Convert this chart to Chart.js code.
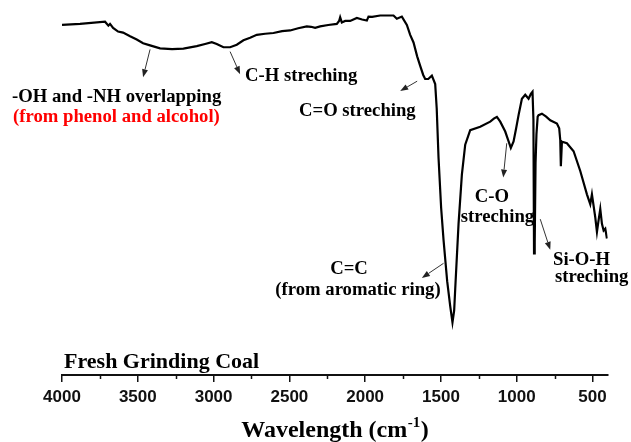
<!DOCTYPE html>
<html>
<head>
<meta charset="utf-8">
<script src="https://cdn.jsdelivr.net/npm/chart.js@4"></script>
<style>
  html, body { margin: 0; padding: 0; background: #fff; }
  #wrap { position: relative; width: 631px; height: 442px; }
</style>
</head>
<body>
<div id="wrap"><canvas id="c" width="631" height="442"></canvas></div>
<script>
// ---- data ----
const wavenumbers = [
  4000, 3881, 3716, 3694, 3683, 3663, 3630, 3597, 3551, 3507, 3465, 3419, 3353, 3274, 3199,
  3111, 3056, 3012, 2979, 2935, 2891, 2847, 2803, 2759, 2715, 2660, 2605, 2548, 2495, 2442,
  2385, 2357, 2330, 2297, 2244, 2187, 2172, 2165, 2154, 2132, 2099, 2055, 2020, 1989, 1978,
  1954, 1901, 1813, 1791, 1758, 1725, 1703, 1681, 1657, 1637, 1617, 1604, 1584, 1560, 1538,
  1528, 1516, 1499, 1483, 1459, 1439, 1424, 1413, 1406, 1384, 1362, 1340, 1307, 1241, 1175,
  1149, 1131, 1109, 1076, 1056, 1039, 1021, 1004, 988, 966, 944, 922, 907, 896, 890,
  886, 883, 880, 876, 870, 862, 856, 834, 806, 779, 735, 720, 713, 709, 702,
  669, 625, 581, 537, 515, 504, 482, 471, 462, 449, 438, 427, 416, 405
];
const transmittance = [
  95.9, 96.2, 96.8, 95.7, 96.2, 95.1, 94.1, 93.8, 92.8, 91.9, 90.9, 90.3, 89.5, 89.3, 89.4,
  90.1, 90.7, 91.2, 90.7, 89.8, 89.8, 90.5, 91.7, 92.4, 93.2, 93.5, 93.7, 94.2, 94.4, 95.0,
  95.5, 95.4, 95.1, 95.5, 95.9, 96.2, 97.0, 98.0, 96.6, 97.0, 97.0, 97.8, 97.4, 97.1, 98.2,
  98.1, 98.5, 98.5, 97.6, 98.2, 95.9, 93.2, 91.1, 87.3, 84.7, 82.2, 81.1, 81.1, 82.0, 79.7,
  73.0, 59.5, 45.9, 37.0, 25.7, 18.9, 14.4, 17.6, 23.5, 41.4, 54.9, 63.1, 67.1, 68.0, 69.4,
  70.3, 70.7, 69.4, 66.7, 64.3, 62.2, 64.0, 67.6, 71.2, 75.7, 76.8, 75.7, 77.0, 77.6, 70.0,
  33.3, 50.0, 36.0, 58.0, 66.0, 70.8, 71.2, 71.6, 70.8, 69.8, 68.9, 67.6, 64.4, 57.2, 63.9,
  63.5, 61.3, 55.9, 49.5, 46.8, 49.5, 43.2, 39.2, 41.9, 45.5, 41.4, 39.6, 40.1, 37.4
];
const tickValues = [4000, 3500, 3000, 2500, 2000, 1500, 1000, 500];
const minorTickValues = [3750, 3250, 2750, 2250, 1750, 1250, 750];
const xRange = [400, 4000];
const yRange = [0, 100];

const chartTitle = 'Fresh Grinding Coal';
const axisTitle = 'Wavelength (cm';
const axisTitleSup = '-1';

// annotation arrows in data units: tail on the spectrum, head near the label
const arrowNotes = [
  { from: [3419, 89.2], to: [3465, 81.6] },
  { from: [2891, 88.6], to: [2825, 82.4] },
  { from: [1657, 80.5], to: [1769, 77.8] },
  { from: [1483, 30.6], to: [1626, 26.6] },
  { from: [1066, 63.5], to: [1089, 54.1] },
  { from: [845, 42.7],  to: [779, 34.3] }
];
// annotation texts (canvas pixel layout)
const labelTexts = [
  { text: '-OH and -NH overlapping',   x: 12,  y: 101.5, color: '#000', align: 'left' },
  { text: '(from phenol and alcohol)', x: 13,  y: 121.5, color: '#ff0000', align: 'left' },
  { text: 'C-H streching',             x: 245, y: 80.5,  color: '#000', align: 'left' },
  { text: 'C=O streching',             x: 299, y: 115.5, color: '#000', align: 'left' },
  { text: 'C=C',                       x: 349, y: 274,   color: '#000', align: 'center' },
  { text: '(from aromatic ring)',      x: 358, y: 295,   color: '#000', align: 'center' },
  { text: 'C-O',                       x: 492, y: 201.5, color: '#000', align: 'center' },
  { text: 'streching',                 x: 497.5, y: 221.5, color: '#000', align: 'center' },
  { text: 'Si-O-H',                    x: 553, y: 265,   color: '#000', align: 'left' },
  { text: 'streching',                 x: 555, y: 282,   color: '#000', align: 'left' }
];

const SERIF = '"Liberation Serif", "Times New Roman", serif';
const SANS = '"Liberation Sans", Arial, sans-serif';

const annotationPlugin = {
  id: 'annotationLayer',
  afterDraw(chart) {
    const ctx = chart.ctx;
    const xs = chart.scales.x, ys = chart.scales.y;
    const bottom = chart.chartArea.bottom;
    ctx.save();
    // minor ticks
    ctx.strokeStyle = '#111';
    ctx.lineWidth = 1.5;
    minorTickValues.forEach(v => {
      const px = Math.round(xs.getPixelForValue(v)) + 0.5;
      ctx.beginPath();
      ctx.moveTo(px, bottom);
      ctx.lineTo(px, bottom + 4);
      ctx.stroke();
    });
    // arrows
    ctx.strokeStyle = '#333';
    ctx.fillStyle = '#222';
    ctx.lineWidth = 1;
    arrowNotes.forEach(a => {
      const x1 = xs.getPixelForValue(a.from[0]), y1 = ys.getPixelForValue(a.from[1]);
      const x2 = xs.getPixelForValue(a.to[0]), y2 = ys.getPixelForValue(a.to[1]);
      const ang = Math.atan2(y2 - y1, x2 - x1);
      const L = 8, W = 3;
      const bx = x2 - L * Math.cos(ang), by = y2 - L * Math.sin(ang);
      ctx.beginPath();
      ctx.moveTo(x1, y1);
      ctx.lineTo(bx, by);
      ctx.stroke();
      ctx.beginPath();
      ctx.moveTo(x2, y2);
      ctx.lineTo(bx + W * Math.sin(ang), by - W * Math.cos(ang));
      ctx.lineTo(bx - W * Math.sin(ang), by + W * Math.cos(ang));
      ctx.closePath();
      ctx.fill();
    });
    // labels
    ctx.textBaseline = 'alphabetic';
    ctx.font = 'bold 18.7px ' + SERIF;
    labelTexts.forEach(t => {
      ctx.fillStyle = t.color;
      ctx.textAlign = t.align;
      ctx.fillText(t.text, t.x, t.y);
    });
    // chart title
    ctx.fillStyle = '#000';
    ctx.textAlign = 'left';
    ctx.font = 'bold 22px ' + SERIF;
    ctx.fillText(chartTitle, 64, 368);
    // axis title with superscript
    ctx.font = 'bold 24px ' + SERIF;
    const w1 = ctx.measureText(axisTitle).width;
    ctx.font = 'bold 15px ' + SERIF;
    const w2 = ctx.measureText(axisTitleSup).width;
    ctx.font = 'bold 24px ' + SERIF;
    const w3 = ctx.measureText(')').width;
    const total = w1 + w2 + w3 + 1;
    let x0 = 335 - total / 2;
    ctx.fillText(axisTitle, x0, 437);
    ctx.font = 'bold 15px ' + SERIF;
    ctx.fillText(axisTitleSup, x0 + w1 + 0.5, 427);
    ctx.font = 'bold 24px ' + SERIF;
    ctx.fillText(')', x0 + w1 + w2 + 1, 437);
    ctx.restore();
  }
};

new Chart(document.getElementById('c'), {
  type: 'line',
  data: {
    datasets: [{
      data: wavenumbers.map((w, i) => ({ x: w, y: transmittance[i] })),
      borderColor: '#000',
      borderWidth: 2.2,
      pointRadius: 0,
      tension: 0,
      fill: false
    }]
  },
  options: {
    responsive: false,
    animation: false,
    events: [],
    layout: { padding: { left: 62, right: 23.3, top: 10, bottom: 29.6 } },
    plugins: { legend: { display: false }, tooltip: { enabled: false }, title: { display: false } },
    scales: {
      x: {
        type: 'linear',
        reverse: true,
        min: xRange[0],
        max: xRange[1],
        afterBuildTicks: s => { s.ticks = tickValues.map(v => ({ value: v })); },
        grid: { drawOnChartArea: false, drawTicks: true, tickLength: 7, color: '#111', lineWidth: 1.5 },
        border: { display: true, color: '#111', width: 2 },
        ticks: {
          padding: 5,
          maxRotation: 0,
          autoSkip: false,
          color: '#111',
          font: { family: SANS, size: 17, weight: 'bold' },
          callback: v => String(v)
        }
      },
      y: {
        display: false,
        min: yRange[0],
        max: yRange[1]
      }
    }
  },
  plugins: [annotationPlugin]
});
</script>
</body>
</html>
